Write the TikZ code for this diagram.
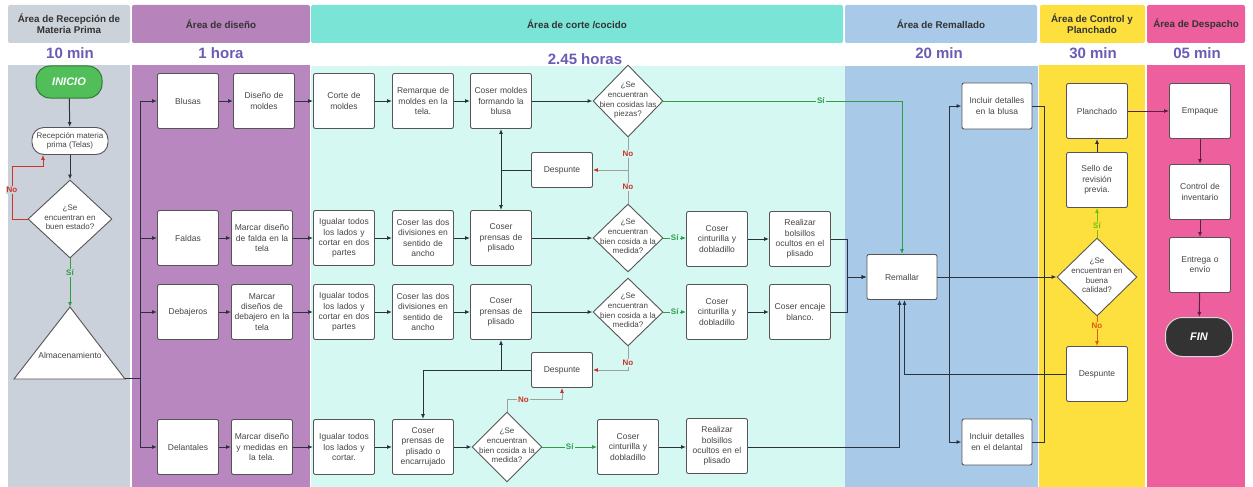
\documentclass[tikz,border=0pt]{standalone}
\usepackage{fontspec}
\setmainfont{Liberation Sans}
\usetikzlibrary{arrows.meta,shapes.geometric}
\definecolor{grayH}{HTML}{CCD2DA}
\definecolor{grayB}{HTML}{CBD1DA}
\definecolor{purH}{HTML}{B683BA}
\definecolor{purB}{HTML}{B987BF}
\definecolor{tealH}{HTML}{7AE4D7}
\definecolor{tealB}{HTML}{D6F8F3}
\definecolor{blueB}{HTML}{A8C9E7}
\definecolor{yelB}{HTML}{FDDF3D}
\definecolor{pinkB}{HTML}{EE5F9D}
\definecolor{timec}{HTML}{6A5CB6}
\definecolor{boxc}{HTML}{555555}
\definecolor{txtc}{HTML}{454545}
\definecolor{hdrc}{HTML}{333333}
\definecolor{linec}{HTML}{2B323D}
\definecolor{redc}{HTML}{CC3329}
\definecolor{greenc}{HTML}{2E9E45}
\definecolor{ygreenc}{HTML}{6FBF10}
\definecolor{orangec}{HTML}{E2571A}
\definecolor{maroonc}{HTML}{5A2040}
\definecolor{inigreen}{HTML}{52BE5A}
\definecolor{inibord}{HTML}{2F7A35}
\definecolor{finc}{HTML}{333333}
\newcommand{\dtx}[1]{\raisebox{-2.4pt}{\smash{\makebox[0pt]{\begin{tabular}{@{}c@{}}#1\end{tabular}}}}}
\begin{document}
\begin{tikzpicture}[x=1pt,y=-1pt,
  box/.style={draw=boxc,line width=0.9pt,fill=white,rounded corners=2pt,minimum width=61pt,minimum height=55pt,text width=58pt,align=center,inner sep=1pt,font=\fontsize{8.5}{10.2}\selectfont,text=txtc},
  wbox/.style={box,minimum width=70pt,minimum height=46pt,text width=68pt},
  sbox/.style={box,minimum height=35pt},
  dia/.style={diamond,draw=boxc,line width=0.9pt,fill=white,inner sep=0pt,minimum width=70pt,minimum height=70pt,font=\fontsize{8}{9.8}\selectfont,text=txtc},
  hdr/.style={font=\fontsize{9.8}{11.2}\selectfont\bfseries,text=hdrc,align=center},
  tim/.style={font=\fontsize{15}{17}\selectfont\bfseries,text=timec},
  line/.style={draw=linec,line width=1pt},
  arr/.style={line,-{Latex[length=5pt,width=4pt]}},
  nol/.style={draw=gray!75,line width=0.8pt},
  noarr/.style={nol,-{Latex[length=5pt,width=4pt,color=redc]}},
  redarr/.style={draw=redc,line width=0.8pt,-{Latex[length=5pt,width=4pt]}},
  garr/.style={draw=greenc,line width=0.9pt,-{Latex[length=5pt,width=4pt]}},
  yarr/.style={draw=ygreenc,line width=0.9pt,-{Latex[length=5pt,width=4pt]}},
  oarr/.style={draw=orangec,line width=0.9pt,-{Latex[length=5pt,width=4pt]}},
  marr/.style={draw=maroonc,line width=1pt,-{Latex[length=5pt,width=4pt]}},
  lbl/.style={font=\fontsize{8}{9}\selectfont\bfseries,inner sep=1pt},
  pill/.style={draw,line width=1pt,rounded corners=14pt,font=\fontsize{11}{12}\selectfont\bfseries\itshape,text=white}
]
\useasboundingbox (0,0) rectangle (1253,487);
\fill[white] (0,0) rectangle (1253,487);
% lanes: headers
\fill[grayH,rounded corners=2pt] (8,5) rectangle (130,43);
\fill[purH,rounded corners=2pt] (132,5) rectangle (310,43);
\fill[tealH,rounded corners=2pt] (311,5) rectangle (843,43);
\fill[blueB,rounded corners=2pt] (845,5) rectangle (1037,43);
\fill[yelB,rounded corners=2pt] (1040,5) rectangle (1145,43);
\fill[pinkB,rounded corners=2pt] (1147,5) rectangle (1245,43);
% lanes: bodies
\fill[grayB] (8,65) rectangle (130,487);
\fill[purB] (132,65) rectangle (310,487);
\fill[tealB] (311,66) rectangle (845,487);
\fill[blueB] (845,66) rectangle (1038,487);
\fill[yelB] (1039,65) rectangle (1145,487);
\fill[pinkB] (1147,65) rectangle (1245,487);
% header texts
\node[hdr] (h1) at (69,24) {Área de Recepción de\\Materia Prima};
\node[hdr] (h2) at (221,24) {Área de diseño};
\node[hdr] (h3) at (577,24) {Área de corte /cocido};
\node[hdr] (h4) at (941,24) {Área de Remallado};
\node[hdr] (h5) at (1092,24) {Área de Control y\\Planchado};
\node[hdr] (h6) at (1196,24) {Área de Despacho};
\node[tim] (t1) at (70,53) {10 min};
\node[tim] (t2) at (221,53) {1 hora};
\node[tim] (t3) at (585,59) {2.45 horas};
\node[tim] (t4) at (939,53) {20 min};
\node[tim] (t5) at (1093,53) {30 min};
\node[tim] (t6) at (1197,53) {05 min};
% lane 1
\node[pill,draw=inibord,fill=inigreen,minimum width=66pt,minimum height=32pt] (inicio) at (69,82) {INICIO};
\node[draw=boxc,line width=0.9pt,fill=white,rounded corners=12pt,minimum width=76pt,minimum height=27pt,inner sep=0pt,align=center,font=\fontsize{8}{9.6}\selectfont,text=txtc] (recep) at (70,141) {Recepción materia\\prima (Telas)};
\node[dia,minimum width=84pt,minimum height=78pt] (d0) at (70,219) {\dtx{¿Se\\encuentran en\\buen estado?}};
\draw[draw=boxc,line width=0.9pt,fill=white] (70,307) -- (125,379) -- (14,379) -- cycle;
\coordinate (triTop) at (70,307);
\coordinate (triR) at (125,378);
\node[font=\fontsize{8.5}{10}\selectfont,text=txtc] (almac) at (70,355) {Almacenamiento};
% lane 2
\node[box] (blusas) at (188,101) {Blusas};
\node[box] (disB) at (264,101) {Diseño de\\moldes};
\node[box] (faldas) at (188,238) {Faldas};
\node[box] (marF) at (262,238) {Marcar diseño\\de falda en la\\tela};
\node[box] (debaj) at (188,312) {Debajeros};
\node[box] (marD) at (262,312) {Marcar\\diseños de\\debajero en la\\tela};
\node[box] (delan) at (188,447) {Delantales};
\node[box] (marDe) at (262,447) {Marcar diseño\\y medidas en\\la tela.};
% lane 3 row 1
\node[box] (corte) at (344,101) {Corte de\\moldes};
\node[box] (remarq) at (423,101) {Remarque de\\moldes en la\\tela.};
\node[box] (cmold) at (501,101) {Coser moldes\\formando la\\blusa};
\node[dia,minimum height=72pt] (d1) at (628,101) {\dtx{¿Se\\encuentran\\bien cosidas las\\piezas?}};
\node[sbox] (despU) at (562,170) {Despunte};
\coordinate (j1) at (628,170);
% row 2
\node[box] (ig2) at (344,238) {Igualar todos\\los lados y\\cortar en dos\\partes};
\node[box] (div2) at (423,238) {Coser las dos\\divisiones en\\sentido de\\ancho};
\node[box] (cp2) at (501,238) {Coser\\prensas de\\plisado};
\node[dia,minimum height=68pt] (d2) at (628,238) {\dtx{¿Se\\encuentran\\bien cosida a la\\medida?}};
\node[box] (cint2) at (717,239) {Coser\\cinturilla y\\dobladillo};
\node[box] (real2) at (800,239) {Realizar\\bolsillos\\ocultos en el\\plisado};
% row 3
\node[box] (ig3) at (344,312) {Igualar todos\\los lados y\\cortar en dos\\partes};
\node[box] (div3) at (423,312) {Coser las dos\\divisiones en\\sentido de\\ancho};
\node[box] (cp3) at (501,312) {Coser\\prensas de\\plisado};
\node[dia,minimum height=68pt] (d3) at (628,312) {\dtx{¿Se\\encuentran\\bien cosida a la\\medida?}};
\node[box] (cint3) at (717,312) {Coser\\cinturilla y\\dobladillo};
\node[box] (enc3) at (800,312) {Coser encaje\\blanco.};
\node[sbox] (despL) at (562,370) {Despunte};
% row 4
\node[box] (ig4) at (344,447) {Igualar todos\\los lados y\\cortar.};
\node[box] (cenc) at (423,447) {Coser\\prensas de\\plisado o\\encarrujado};
\node[dia] (d4) at (507,447) {\dtx{¿Se\\encuentran\\bien cosida a la\\medida?}};
\node[box] (cint4) at (628,447) {Coser\\cinturilla y\\dobladillo};
\node[box] (real4) at (717,446) {Realizar\\bolsillos\\ocultos en el\\plisado};
% lane 4
\node[wbox,minimum height=45pt] (rem) at (902,277) {Remallar};
\node[wbox] (inclB) at (997,106) {Incluir detalles\\en la blusa};
\node[wbox] (inclD) at (997,442) {Incluir detalles\\en el delantal};
\coordinate (rj) at (949,277);
\coordinate (qj) at (1044,277);
% lane 5
\node[box] (planch) at (1097,111) {Planchado};
\node[box] (sello) at (1097,180) {Sello de\\revisión\\previa.};
\node[dia,minimum width=80pt,minimum height=78pt] (dq) at (1097,277) {\dtx{¿Se\\encuentran en\\buena\\calidad?}};
\node[box] (despQ) at (1097,374) {Despunte};
% lane 6
\node[box] (emp) at (1200,111) {Empaque};
\node[box] (ctrl) at (1200,192) {Control de\\inventario};
\node[box] (entr) at (1200,265) {Entrega o\\envío};
\node[pill,draw=white!85!black,fill=finc,minimum width=67pt,minimum height=39pt,rounded corners=17pt] (fin) at (1199,337) {FIN};
% ---------- connectors lane 1
\draw[arr] (inicio) -- (recep);
\draw[arr] (recep) -- (d0);
\draw[garr] (d0.south) -- node[pos=0.3,lbl,fill=grayB,text=greenc]{Sí} (triTop);
\draw[redarr] (d0.west) -- (12,219) -- node[pos=0.55,lbl,fill=grayB,text=redc]{No} (12,166) -- (43,166) -- ([xshift=-27pt]recep.south);
\draw[arr] (triR) -- (140,378) |- (blusas.west);
\draw[arr] (triR) -- (140,378) |- (faldas.west);
\draw[arr] (triR) -- (140,378) |- (debaj.west);
\draw[arr] (triR) -- (140,378) |- (delan.west);
% lane 2
\draw[arr] (blusas) -- (disB);
\draw[arr] (faldas) -- (marF);
\draw[arr] (debaj) -- (marD);
\draw[arr] (delan) -- (marDe);
\draw[arr] (disB) -- (corte);
\draw[arr] (marF) -- (ig2);
\draw[arr] (marD) -- (ig3);
\draw[arr] (marDe) -- (ig4);
% lane 3 row 1
\draw[arr] (corte) -- (remarq);
\draw[arr] (remarq) -- (cmold);
\draw[arr] (cmold) -- (d1);
\draw[garr] (d1.east) -| node[pos=0.33,lbl,fill=tealB,text=greenc]{Sí} (rem.north);
\draw[nol] (d1.south) -- node[lbl,fill=tealB,text=redc]{No} (j1);
\draw[nol] (d2.north) -- node[lbl,fill=tealB,text=redc]{No} (j1);
\draw[noarr] (j1) -- (despU.east);
\draw[arr] (despU.west) -| (cmold.south);
\draw[arr] (despU.west) -| (cp2.north);
% row 2
\draw[arr] (ig2) -- (div2);
\draw[arr] (div2) -- (cp2);
\draw[arr] (cp2) -- (d2);
\draw[garr] (d2.east) -- node[lbl,fill=tealB,text=greenc]{Sí} (d2.east -| cint2.west);
\draw[arr] (cint2) -- (real2);
\draw[arr] (real2.east) -- ++(17,0) |- (rem.west);
% row 3
\draw[arr] (ig3) -- (div3);
\draw[arr] (div3) -- (cp3);
\draw[arr] (cp3) -- (d3);
\draw[garr] (d3.east) -- node[lbl,fill=tealB,text=greenc]{Sí} (cint3.west);
\draw[arr] (cint3) -- (enc3);
\draw[arr] (enc3.east) -- ++(17,0) |- (rem.west);
\draw[noarr] (d3.south) |- node[pos=0.35,lbl,fill=tealB,text=redc]{No} (despL.east);
\draw[arr] (despL.west) -| (cp3.south);
\draw[arr] (despL.west) -| (cenc.north);
% row 4
\draw[arr] (ig4) -- (cenc);
\draw[arr] (cenc) -- (d4);
\draw[garr] (d4.east) -- node[lbl,fill=tealB,text=greenc]{Sí} (cint4.west);
\draw[arr] (cint4) -- (real4.west |- cint4.east);
\draw[arr] (real4.east |- cint4.east) -| ([xshift=-2.5pt]rem.south);
\draw[noarr] (d4.north) -- ++(0,-12) -| node[pos=0.15,lbl,fill=tealB,text=redc]{No} (despL.south);
% lane 4
\draw[arr] (rem.east) -- (dq.west);
\draw[arr] (rj) |- (inclB.west);
\draw[arr] (rj) |- (inclD.west);
\draw[line] (inclB.east) -| (qj);
\draw[line] (inclD.east) -| (qj);
% lane 5
\draw[yarr] (dq.north) -- node[pos=0.4,lbl,fill=yelB,text=ygreenc]{Sí} (sello.south);
\draw[arr] (sello) -- (planch);
\draw[oarr] (dq.south) -- node[pos=0.3,lbl,fill=yelB,text=orangec]{No} (despQ.north);
\draw[arr] (despQ.west) -| ([xshift=2.5pt]rem.south);
\draw[marr,line width=0.8pt] (planch) -- (emp);
% lane 6
\draw[marr] (emp) -- (ctrl);
\draw[marr] (ctrl) -- (entr);
\draw[marr] (entr) -- (fin);
\end{tikzpicture}
\end{document}
